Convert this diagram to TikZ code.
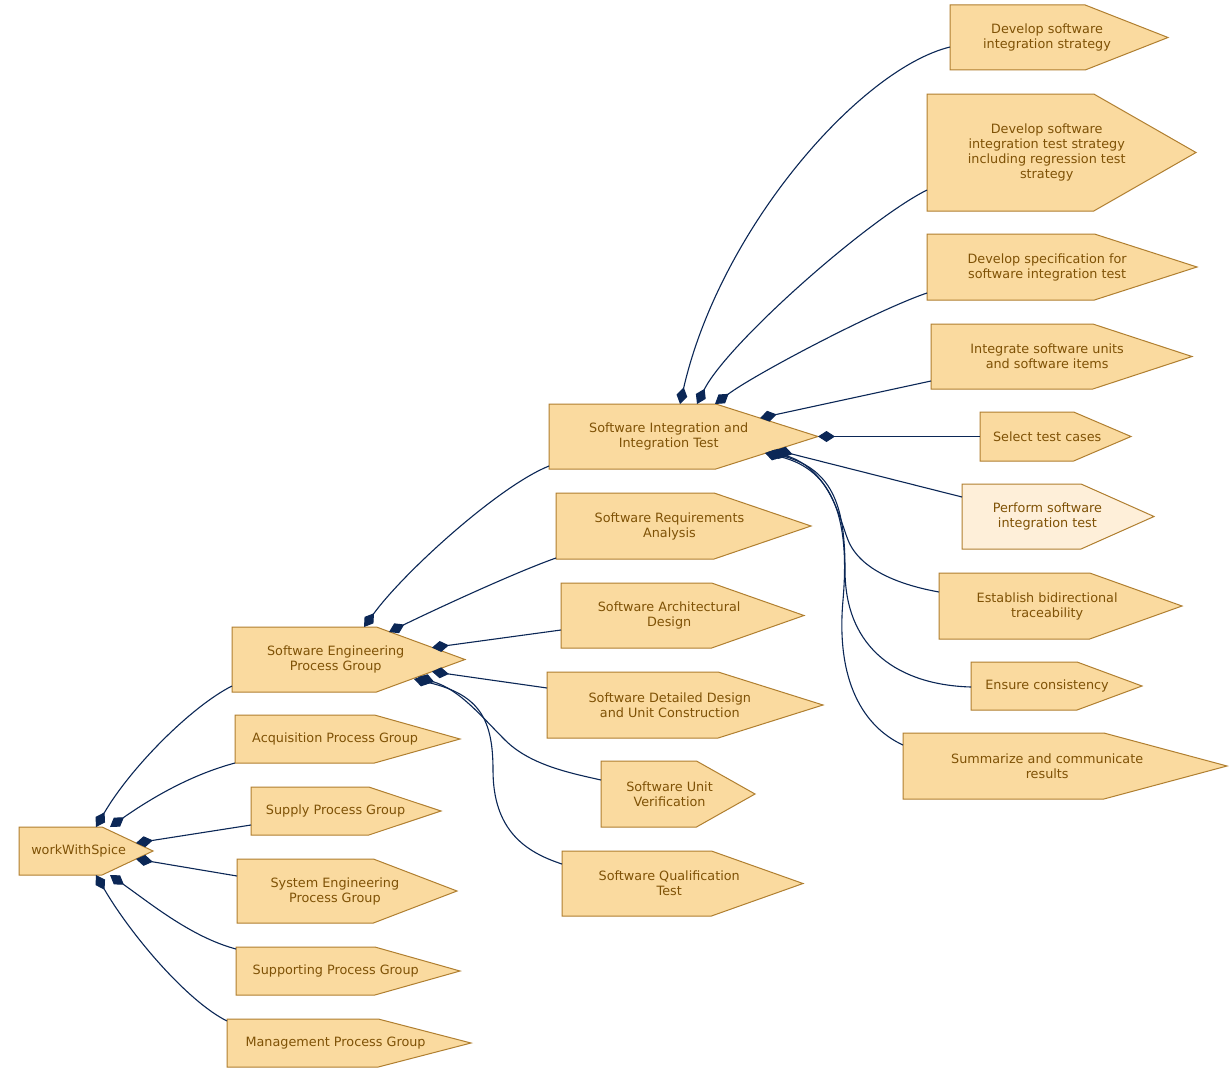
\documentclass[tikz,border=0pt]{standalone}
\usepackage{fontspec}
\setmainfont{DejaVu Sans}
\usetikzlibrary{arrows.meta,calc}
\definecolor{fillc}{HTML}{FADA9F}
\definecolor{fillp}{HTML}{FEEFD9}
\definecolor{borderc}{HTML}{B07F30}
\definecolor{textc}{HTML}{7F5206}
\definecolor{edgec}{HTML}{0B2756}
\tikzset{
  cdsbox/.style={draw=none,inner sep=0pt,outer sep=0pt,rectangle},
  cdsline/.style={draw=borderc,line width=1pt,line join=miter},
  txt/.style={font=\fontsize{12.8}{15}\selectfont,text=textc,align=center,inner sep=0pt},
  conn/.style={draw=edgec,line width=1.1pt,{Diamond[length=17pt,width=11pt]}-}
}
\newcommand\cdsnode[7]{%
  \node[cdsbox,minimum width={(#4-#2)*1pt},minimum height={(#5-#3)*1pt},anchor=north west] (#1) at (#2,#3) {};
  \draw[cdsline,fill=#6] (#1.north west) -- ($(#1.north west)!0.62!(#1.north east)$) -- (#1.east) -- ($(#1.south west)!0.62!(#1.south east)$) -- (#1.south west) -- cycle;
  \node[txt] (#1-t) at ($(#1.west)!0.89!(#1.center)$) {#7};
}
\begin{document}
\begin{tikzpicture}[x=1pt,y=-1pt]
\fill[white] (0,0) rectangle (1231,1073);
\useasboundingbox (0,0) rectangle (1231,1073);

\cdsnode{wws}{19}{827}{153}{875}{fillc}{workWithSpice}
\cdsnode{sepg}{232}{627}{465}{692}{fillc}{Software Engineering\\Process Group}
\cdsnode{acq}{235}{715}{460}{763}{fillc}{Acquisition Process Group}
\cdsnode{sup}{251}{787}{441}{835}{fillc}{Supply Process Group}
\cdsnode{syse}{237}{859}{457}{923}{fillc}{System Engineering\\Process Group}
\cdsnode{supp}{236}{947}{460}{995}{fillc}{Supporting Process Group}
\cdsnode{mgmt}{227}{1019}{471}{1067}{fillc}{Management Process Group}

\cdsnode{siit}{549}{404}{818}{469}{fillc}{Software Integration and\\Integration Test}
\cdsnode{sra}{556}{493}{811}{559}{fillc}{Software Requirements\\Analysis}
\cdsnode{sad}{561}{583}{804}{648}{fillc}{Software Architectural\\Design}
\cdsnode{sdd}{547}{672}{823}{738}{fillc}{Software Detailed Design\\and Unit Construction}
\cdsnode{suv}{601}{761}{755}{827}{fillc}{Software Unit\\Verification}
\cdsnode{sqt}{562}{851}{803}{916}{fillc}{Software Qualification\\Test}

\cdsnode{dsis}{950}{5}{1168}{70}{fillc}{Develop software\\integration strategy}
\cdsnode{dsits}{927}{94}{1196}{211}{fillc}{Develop software\\integration test strategy\\including regression test\\strategy}
\cdsnode{dspec}{927}{234}{1197}{300}{fillc}{Develop specification for\\software integration test}
\cdsnode{integ}{931}{324}{1192}{389}{fillc}{Integrate software units\\and software items}
\cdsnode{sel}{980}{412}{1131}{461}{fillc}{Select test cases}
\cdsnode{perf}{962}{484}{1154}{549}{fillp}{Perform software\\integration test}
\cdsnode{estb}{939}{573}{1182}{639}{fillc}{Establish bidirectional\\traceability}
\cdsnode{ens}{971}{662}{1142}{710}{fillc}{Ensure consistency}
\cdsnode{summ}{903}{733}{1227}{799}{fillc}{Summarize and communicate\\results}

% workWithSpice edges
\draw[conn] ($(wws.north west)+(77,0)$) .. controls +(35,-60) and +(-40,20) .. ($(sepg.north west)+(0,59)$);
\draw[conn] ($(wws.north west)+(91,0)$) .. controls +(40,-28) and +(-45,12) .. ($(acq.north west)+(0,48)$);
\draw[conn] ($(wws.north west)+(117,16)$) -- ($(sup.north west)+(0,38)$);
\draw[conn] ($(wws.north west)+(117,32)$) -- ($(syse.north west)+(0,17)$);
\draw[conn] ($(wws.north west)+(91,48)$) .. controls +(40,28) and +(-45,-12) .. ($(supp.north west)+(0,2)$);
\draw[conn] ($(wws.north west)+(77,48)$) .. controls +(35,60) and +(-40,-20) .. ($(mgmt.north west)+(0,2)$);

% Software Engineering edges
\draw[conn] ($(sepg.north west)+(132,0)$) .. controls +(40,-55) and +(-50,20) .. ($(siit.north west)+(0,62)$);
\draw[conn] ($(sepg.north west)+(157,5)$) .. controls +(45,-22) and +(-40,14) .. ($(sra.north west)+(0,65)$);
\draw[conn] ($(sepg.north west)+(200,20.6)$) -- ($(sad.north west)+(0,47)$);
\draw[conn] ($(sepg.north west)+(200,44.6)$) -- ($(sdd.north west)+(0,16)$);
\draw[conn] ($(sepg.north west)+(186,50)$) .. controls +(42,13) and (480,715) .. (505,740) .. controls (530,765) and (570,773) .. ($(suv.north west)+(0,19)$);
\draw[conn] ($(sepg.north west)+(182,52)$) .. controls +(66,16) and (493,720) .. (493,770) .. controls (493,830) and (525,852) .. ($(sqt.north west)+(0,13)$);

% Software Integration edges
\draw[conn] ($(siit.north west)+(131,0)$) .. controls +(40,-175) and +(-90,22) .. ($(dsis.north west)+(0,42)$);
\draw[conn] ($(siit.north west)+(148,0)$) .. controls +(30,-60) and +(-60,30) .. ($(dsits.north west)+(0,96)$);
\draw[conn] ($(siit.north west)+(166,0)$) .. controls +(40,-30) and +(-50,17) .. ($(dspec.north west)+(0,59)$);
\draw[conn] ($(siit.north west)+(211,14)$) -- ($(integ.north west)+(0,57)$);
\draw[conn] (siit.east) -- (sel.west);
\draw[conn] ($(siit.north west)+(227,46)$) -- ($(perf.north west)+(0,13)$);
\draw[conn] ($(siit.north west)+(223,47)$) .. controls +(58,19) and (840,520) .. (848,540) .. controls (860,570) and (900,585) .. ($(estb.north west)+(0,19)$);
\draw[conn] ($(siit.north west)+(219,48)$) .. controls +(67,18) and (845,510) .. (845,570) .. controls (845,650) and (900,685) .. ($(ens.north west)+(0,25)$);
\draw[conn] ($(siit.north west)+(216,49)$) .. controls +(69,17) and (850,520) .. (843,600) .. controls (835,690) and (870,730) .. ($(summ.north west)+(0,12)$);
\end{tikzpicture}
\end{document}
